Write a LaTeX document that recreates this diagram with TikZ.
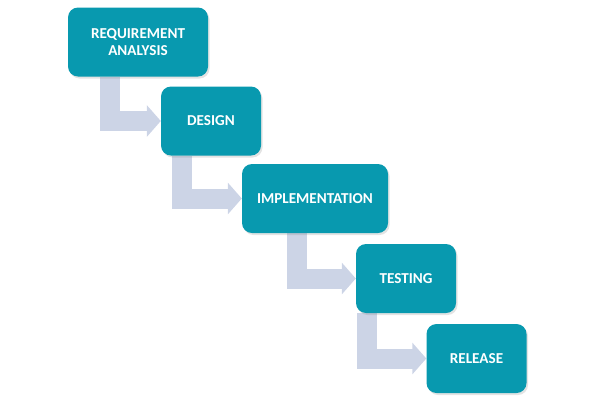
\documentclass[tikz,border=0pt]{standalone}
\usepackage{fontspec}
\setmainfont{Carlito}
\usepackage{xcolor,tikz}
\usetikzlibrary{positioning,arrows.meta,shadows,backgrounds}
\definecolor{stagefill}{RGB}{8,153,175}
\definecolor{flowfill}{RGB}{204,212,230}
\tikzset{>=Triangle}
\tikzset{
  stage/.style={draw=none,fill=stagefill,rounded corners=10bp,minimum height=69bp,
    text=white,font=\fontsize{15.2}{17}\selectfont\bfseries,align=center,
    drop shadow={opacity=0.22,shadow xshift=1.5bp,shadow yshift=-2bp}},
  flow/.style={draw=flowfill,line width=20bp,-{Triangle[width=31bp,length=14bp]}}
}

\begin{document}
\begin{tikzpicture}[x=1bp,y=-1bp]
\useasboundingbox (0,0) rectangle (596,411);
\node[stage,minimum width=140bp] (req) at (138,42) {REQUIREMENT\\ANALYSIS};
\node[stage,minimum width=100bp] (des) at (211,121) {DESIGN};
\node[stage,minimum width=146bp] (imp) at (315,198.5) {IMPLEMENTATION};
\node[stage,minimum width=100bp] (tst) at (406,278.5) {TESTING};
\node[stage,minimum width=100bp] (rel) at (476.5,358.5) {RELEASE};
% arrows behind the boxes
\begin{scope}[on background layer]
\draw[flow] ([xshift=42bp]req.south west) |- (des.west);
\draw[flow] ([xshift=21.5bp]des.south west) |- (imp.west);
\draw[flow] ([xshift=55.5bp]imp.south west) |- (tst.west);
\draw[flow] ([xshift=11bp]tst.south west) |- (rel.west);
\end{scope}
\end{tikzpicture}
\end{document}
